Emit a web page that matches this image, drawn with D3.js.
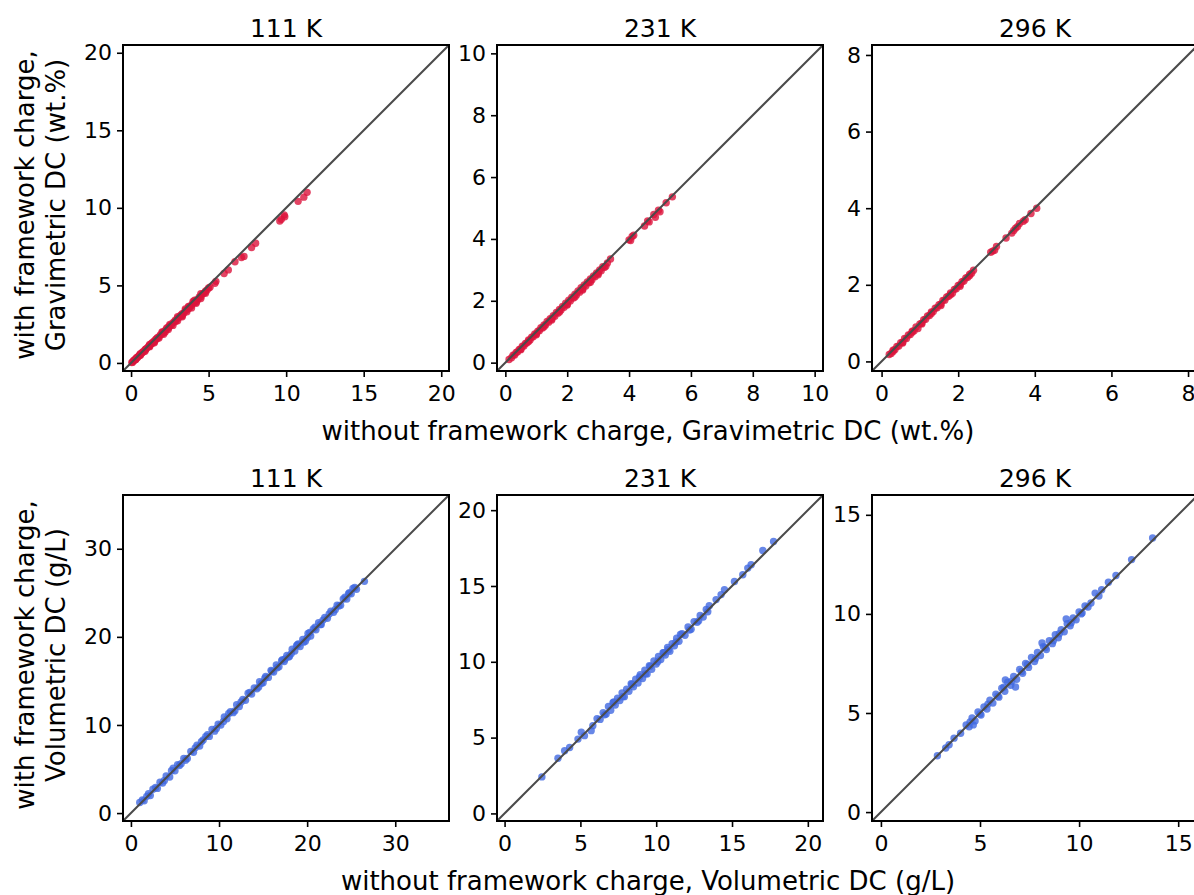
<!DOCTYPE html>
<html>
<head>
<meta charset="utf-8">
<script src="https://cdn.jsdelivr.net/npm/d3@7"></script>
<style>
  body { margin: 0; background: #fff; }
  text { font-family: "DejaVu Sans", sans-serif; fill: #000; }
</style>
</head>
<body>
<svg id="chart" width="1194" height="895"></svg>
<script>
// temperatures (panel titles)
var temps = ["111 K", "231 K", "296 K"];

// axis limits and ticks for every panel
var gravLimits = [[-0.52, 20.5], [-0.27, 10.27], [-0.25, 8.26]];
var volLimits = [[-0.9, 36.1], [-0.5, 21.0], [-0.45, 16.0]];
var gravTicks = [[0, 5, 10, 15, 20], [0, 2, 4, 6, 8, 10], [0, 2, 4, 6, 8]];
var volTicks = [[0, 10, 20, 30], [0, 5, 10, 15, 20], [0, 5, 10, 15]];

// gravimetric DC (wt.%), without (X) / with (Y) framework charge
var grav111X = [0.05,0.1,0.15,0.2,0.25,0.3,0.35,0.4,0.45,0.5,0.55,0.6,0.6,0.7,0.75,0.8,0.9,0.95,1.0,1.1,1.15,1.2,1.2,1.3,1.35,1.4,1.5,1.5,1.6,1.65,1.7,1.8,1.9,2.0,2.0,2.05,2.1,2.2,2.2,2.3,2.4,2.45,2.5,2.5,2.6,2.7,2.8,2.85,2.9,3.0,3.0,3.1,3.2,3.25,3.3,3.3,3.4,3.5,3.5,3.6,3.7,3.75,3.8,3.9,4.0,4.0,4.1,4.2,4.2,4.3,4.4,4.5,4.5,4.6,4.7,4.8,4.9,5.0,5.09,5.41,5.47,6.0,6.27,6.7,7.12,7.28,7.77,8.03,9.59,9.69,9.87,9.91,10.77,11.14,11.35,
  0.3,0.6,0.9,1.2,1.5,1.8,2.1,2.4,2.7,3.0,3.3,3.6,3.9,4.2,4.5,4.8,2.3,3.7,4.1];
var grav111Y = [0.03,0.05,0.14,0.15,0.22,0.24,0.33,0.34,0.41,0.44,0.52,0.53,0.6,0.64,0.71,0.72,0.85,0.88,0.94,1.02,1.1,1.11,1.19,1.24,1.25,1.33,1.41,1.36,1.53,1.54,1.62,1.69,1.82,1.88,1.99,1.98,1.97,2.1,2.0,2.17,2.31,2.3,2.4,2.48,2.44,2.6,2.64,2.75,2.71,2.88,2.98,2.95,3.08,3.04,3.18,3.05,3.2,3.38,3.48,3.42,3.58,3.52,3.66,3.7,3.86,3.97,3.9,4.05,3.93,4.08,4.25,4.27,4.46,4.44,4.5,4.62,4.7,4.83,4.88,5.13,5.26,5.77,6.0,6.52,6.8,6.87,7.44,7.72,9.15,9.26,9.54,9.43,10.42,10.69,11.0,
  0.22,0.5,0.76,1.05,1.3,1.6,1.85,2.15,2.42,2.72,2.98,3.3,3.55,3.85,4.15,4.5,2.25,3.65,4.05];

var grav231X = [0.12,0.2,0.25,0.3,0.35,0.4,0.45,0.5,0.55,0.6,0.65,0.7,0.75,0.8,0.85,0.9,0.95,1.0,1.05,1.1,1.15,1.2,1.25,1.3,1.35,1.4,1.45,1.5,1.55,1.6,1.65,1.7,1.75,1.8,1.85,1.9,1.95,2.0,2.05,2.1,2.15,2.2,2.25,2.3,2.35,2.4,2.45,2.5,2.55,2.6,2.65,2.7,2.75,2.8,2.85,2.9,2.95,3.0,3.05,3.1,3.15,3.2,3.3,3.4,4.0,4.05,4.1,4.15,4.5,4.6,4.65,4.8,4.85,4.95,5.0,5.2,5.4,
  0.5,1.0,1.5,2.0,2.5,3.0,0.75,1.25,1.75,2.25,2.75,3.25];
var grav231Y = [0.1,0.16,0.24,0.25,0.33,0.35,0.43,0.44,0.53,0.54,0.62,0.64,0.73,0.73,0.82,0.84,0.93,0.93,1.02,1.03,1.13,1.12,1.22,1.22,1.33,1.31,1.42,1.41,1.52,1.5,1.62,1.6,1.72,1.7,1.82,1.79,1.92,1.89,2.02,1.99,2.12,2.09,2.21,2.19,2.32,2.28,2.42,2.38,2.51,2.48,2.61,2.58,2.71,2.68,2.8,2.78,2.9,2.88,3.0,2.97,3.1,3.08,3.22,3.35,3.97,3.95,4.08,4.12,4.42,4.58,4.55,4.79,4.7,4.93,4.88,5.17,5.36,
  0.42,0.9,1.38,1.86,2.35,2.84,0.68,1.16,1.64,2.12,2.6,3.12];

var grav296X = [0.2,0.25,0.3,0.35,0.4,0.45,0.5,0.55,0.6,0.65,0.7,0.75,0.8,0.85,0.9,0.95,1.0,1.05,1.1,1.15,1.2,1.25,1.3,1.35,1.4,1.45,1.5,1.55,1.6,1.65,1.7,1.75,1.8,1.85,1.9,1.95,2.0,2.05,2.1,2.15,2.2,2.25,2.3,2.35,2.4,2.85,2.9,2.95,3.0,3.25,3.4,3.45,3.5,3.55,3.6,3.7,3.75,3.9,4.05,
  0.3,0.55,0.8,1.05,1.3,1.55,1.8,2.05,2.3];
var grav296Y = [0.18,0.21,0.29,0.31,0.39,0.4,0.49,0.5,0.6,0.6,0.69,0.7,0.79,0.8,0.9,0.86,0.98,1.0,1.09,1.1,1.19,1.2,1.29,1.3,1.39,1.4,1.48,1.5,1.59,1.6,1.68,1.7,1.79,1.78,1.88,1.9,1.98,2.0,2.08,2.1,2.18,2.2,2.28,2.3,2.38,2.85,2.88,2.9,3.0,3.22,3.35,3.42,3.48,3.52,3.6,3.66,3.7,3.86,4.0,
  0.26,0.48,0.76,0.98,1.25,1.46,1.74,1.96,2.24];

// volumetric DC (g/L), without (X) / with (Y) framework charge
var vol111X = [1.0,1.5,1.8,2.2,2.5,2.8,3.0,3.3,3.6,4.0,4.4,4.8,5.0,5.3,5.5,5.7,6.0,6.4,6.8,7.1,7.5,7.8,8.0,8.2,8.5,8.9,9.2,9.5,9.9,10.2,10.5,10.6,10.9,11.3,11.6,12.0,12.3,12.5,12.7,13.0,13.3,13.7,14.0,14.3,14.6,14.8,15.0,15.3,15.6,15.9,16.0,16.2,16.5,16.8,17.1,17.4,17.5,17.7,18.0,18.2,18.3,18.6,18.9,19.0,19.2,19.5,19.8,20.0,20.1,20.4,20.7,21.0,21.3,21.6,21.8,22.0,22.3,22.7,23.0,23.2,23.4,23.8,24.1,24.3,24.5,24.8,25.0,25.2,25.6,26.5,
  1.3,2.0,3.8,4.6,6.2,7.3,8.7,9.7,11.1,11.8,13.5,14.5,15.2,16.6,17.2,17.9,18.8,19.6,20.3,20.9,21.5,22.5,23.6,24.7,25.4];
var vol111Y = [1.2,1.4,1.9,2.0,2.7,2.9,2.8,3.5,3.4,4.2,4.1,5.1,4.8,5.5,5.4,5.6,6.2,6.2,7.0,6.9,7.7,7.6,8.1,8.3,8.7,8.7,9.5,9.3,10.1,10.0,10.4,10.9,10.7,11.5,11.4,12.3,12.1,12.6,12.9,12.8,13.6,13.5,14.2,14.1,14.9,14.7,14.8,15.5,15.4,16.2,16.1,16.0,16.8,16.6,17.3,17.2,17.5,17.9,17.8,18.1,18.6,18.4,19.1,19.2,18.9,19.7,19.5,19.9,20.4,20.1,20.9,20.8,21.6,21.4,21.9,22.2,22.1,22.9,22.8,23.1,23.6,23.6,24.3,24.5,24.3,25.0,24.9,25.5,25.4,26.3,
  1.5,2.2,3.7,4.8,6.0,7.4,8.9,9.6,11.3,11.6,13.7,14.3,15.3,16.5,17.4,17.7,19.0,19.4,20.5,21.1,21.4,22.6,23.5,24.9,25.6];

var vol231X = [2.46,3.52,3.96,4.29,4.84,5.06,5.27,5.71,5.82,6.1,6.3,6.5,6.7,6.85,7.0,7.15,7.3,7.45,7.6,7.75,7.9,8.05,8.2,8.35,8.5,8.65,8.8,8.95,9.1,9.25,9.4,9.55,9.7,9.85,10.0,10.15,10.3,10.45,10.6,10.75,10.9,11.05,11.2,11.35,11.5,11.7,11.9,12.1,12.3,12.5,12.7,12.9,13.1,13.3,13.5,13.95,14.28,14.5,15.16,15.71,16.04,16.26,17.03,17.74,
  6.6,7.2,7.8,8.4,8.9,9.3,9.6,10.1,10.5,10.8,11.3,11.6,12.2,12.8,13.4];
var vol231Y = [2.41,3.64,4.13,4.35,4.9,5.35,5.13,5.46,5.79,6.25,6.2,6.65,6.55,7.05,6.8,7.3,7.15,7.6,7.45,7.95,7.7,8.2,8.05,8.55,8.35,8.85,8.6,9.15,8.9,9.45,9.2,9.75,9.5,10.05,9.85,10.35,10.15,10.6,10.45,10.95,10.7,11.2,11.05,11.55,11.35,11.85,11.75,12.3,12.15,12.65,12.6,13.05,12.95,13.45,13.7,14.1,14.43,14.76,15.3,15.74,16.18,16.4,17.34,17.93,
  6.5,7.35,7.7,8.5,9.0,9.2,9.7,10.0,10.6,10.8,11.3,11.8,12.1,12.7,13.3];

var vol296X = [2.85,3.27,3.44,3.69,4.02,4.3,4.45,4.6,4.66,4.75,4.9,5.05,5.2,5.35,5.5,5.65,5.8,5.95,6.1,6.25,6.28,6.4,6.55,6.7,6.79,6.85,7.0,7.15,7.3,7.45,7.6,7.75,7.9,8.05,8.13,8.2,8.35,8.5,8.65,8.8,8.95,9.1,9.25,9.35,9.4,9.55,9.7,9.85,10.0,10.15,10.3,10.45,10.81,11.14,11.48,11.86,12.65,13.71,
  4.5,5.0,5.4,5.9,6.2,6.6,7.1,7.4,7.8,8.3,8.7,9.0,9.6,10.1,10.6,11.0];
var vol296Y = [2.84,3.23,3.4,3.73,3.98,4.4,4.3,4.75,4.4,4.6,5.05,4.9,5.3,5.2,5.65,5.5,5.95,5.8,6.25,6.1,6.67,6.55,6.4,6.85,6.31,6.7,7.2,7.0,7.5,7.3,7.8,7.6,8.05,7.9,8.53,8.35,8.2,8.65,8.5,8.95,8.8,9.2,9.1,9.74,9.5,9.4,9.8,9.7,10.1,10.05,10.4,10.35,11.05,11.22,11.6,11.94,12.74,13.83,
  4.55,4.95,5.45,5.85,6.3,6.6,7.1,7.45,7.75,8.3,8.65,9.0,9.55,10.0,10.55,10.9];

var rows = [
  { xs: [grav111X, grav231X, grav296X], ys: [grav111Y, grav231Y, grav296Y], lims: gravLimits, ticks: gravTicks,
    color: "#dc143c", top: 45,
    ylab: ["with framework charge,", "Gravimetric DC (wt.%)"],
    xlab: "without framework charge, Gravimetric DC (wt.%)" },
  { xs: [vol111X, vol231X, vol296X], ys: [vol111Y, vol231Y, vol296Y], lims: volLimits, ticks: volTicks,
    color: "#4169e1", top: 495,
    ylab: ["with framework charge,", "Volumetric DC (g/L)"],
    xlab: "without framework charge, Volumetric DC (g/L)" }
];

var svg = d3.select("#chart"),
    lefts = [123, 497, 872],
    size = 326;

rows.forEach(function (row, r) {
  lefts.forEach(function (left, c) {
    var lim = row.lims[c],
        x = d3.scaleLinear().domain(lim).range([0, size]),
        y = d3.scaleLinear().domain(lim).range([size, 0]),
        g = svg.append("g").attr("transform", "translate(" + left + "," + row.top + ")"),
        clipId = "clip" + r + c;

    g.append("clipPath").attr("id", clipId)
      .append("rect").attr("width", size).attr("height", size);

    var plot = g.append("g").attr("clip-path", "url(#" + clipId + ")");

    var pts = row.xs[c].map(function (v, i) { return [v, row.ys[c][i]]; });

    plot.selectAll("circle")
      .data(pts)
      .enter().append("circle")
      .attr("cx", function (d) { return x(d[0]); })
      .attr("cy", function (d) { return y(d[1]); })
      .attr("r", 3.7)
      .attr("fill", row.color)
      .attr("fill-opacity", 0.8);

    // y = x reference line
    plot.append("line")
      .attr("x1", x(lim[0])).attr("y1", y(lim[0]))
      .attr("x2", x(lim[1])).attr("y2", y(lim[1]))
      .attr("stroke", "#4a4a4a")
      .attr("stroke-width", 2);

    var xa = g.append("g")
      .attr("transform", "translate(0," + size + ")")
      .call(d3.axisBottom(x).tickValues(row.ticks[c]).tickSize(6).tickPadding(8));
    var ya = g.append("g")
      .call(d3.axisLeft(y).tickValues(row.ticks[c]).tickSize(6).tickPadding(5));

    [xa, ya].forEach(function (a) {
      a.select(".domain").remove();
      a.selectAll(".tick line").attr("stroke", "#000").attr("stroke-width", 1.6);
      a.selectAll(".tick text").attr("font-size", 22).attr("font-family", "DejaVu Sans").attr("fill", "#000");
    });

    g.append("rect")
      .attr("width", size).attr("height", size)
      .attr("fill", "none")
      .attr("stroke", "#000")
      .attr("stroke-width", 2);

    g.append("text")
      .attr("x", size / 2).attr("y", -8)
      .attr("text-anchor", "middle")
      .attr("font-size", 25)
      .text(temps[c]);
  });

  // shared axis labels
  svg.append("text")
    .attr("x", 648).attr("y", row.top + 395)
    .attr("text-anchor", "middle")
    .attr("font-size", 26)
    .text(row.xlab);

  var cy = row.top + 160;
  row.ylab.forEach(function (t, i) {
    svg.append("text")
      .attr("transform", "translate(" + (34 + i * 31) + "," + cy + ") rotate(-90)")
      .attr("text-anchor", "middle")
      .attr("font-size", 26)
      .text(t);
  });
});
</script>
</body>
</html>
